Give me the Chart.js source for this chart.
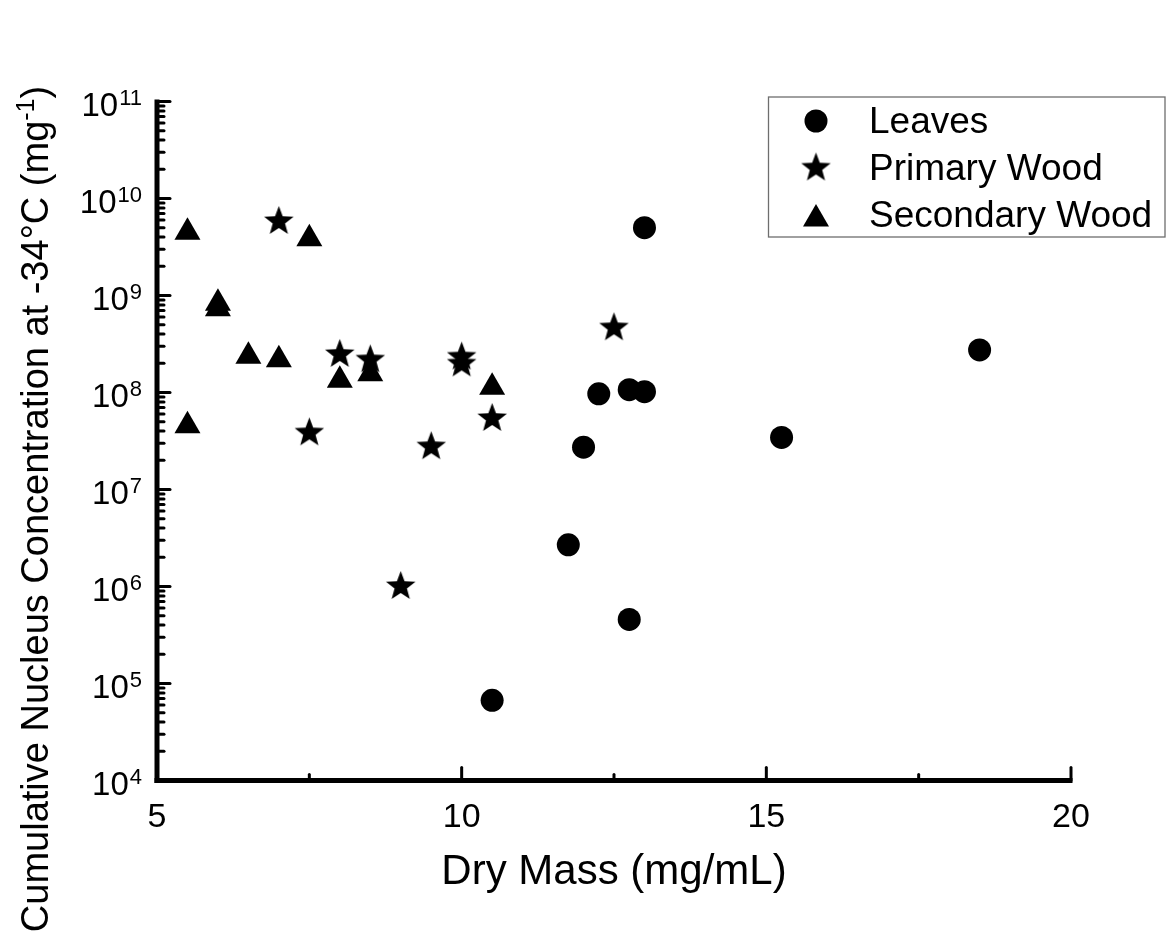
<!DOCTYPE html>
<html>
<head>
<meta charset="utf-8">
<title>Cumulative nucleus concentration vs dry mass</title>
<script src="https://cdn.jsdelivr.net/npm/chart.js@4.4.1/dist/chart.umd.min.js"></script>
<style>
  html, body { margin: 0; padding: 0; background: #ffffff; }
  #wrap { width: 1171px; height: 935px; position: relative; }
  canvas { display: block; }
</style>
</head>
<body>
<div id="wrap"><canvas id="chart" width="1171" height="935"></canvas></div>
<script>
// Dry mass (mg/mL) and cumulative nucleus concentration at -34 °C (per mg)
const leavesX    = [13, 12.25, 12.75, 13, 12, 11.75, 12.75, 10.5, 15.25, 18.5];
const leavesY    = [5.0e9, 9.7e7, 1.07e8, 1.02e8, 2.73e7, 2.69e6, 4.57e5, 6.7e4, 3.44e7, 2.75e8];

const primaryX   = [7, 8, 8.5, 10, 10, 10.5, 9.5, 9, 12.5, 7.5];
const primaryY   = [5.8e9, 2.47e8, 2.17e8, 2.32e8, 1.97e8, 5.4e7, 2.76e7, 1.0e6, 4.65e8, 3.84e7];

const secondaryX = [5.5, 6, 6, 6.5, 7, 7.5, 5.5, 8, 8.5, 10.5];
const secondaryY = [4.5e9, 8.3e8, 7.3e8, 2.36e8, 2.18e8, 3.85e9, 4.55e7, 1.34e8, 1.56e8, 1.13e8];

const seriesNames = ['Leaves', 'Primary Wood', 'Secondary Wood'];

// Axis ticks
const xMajorTicks = [5, 10, 15, 20];
const xMinorTicks = [7.5, 12.5, 17.5];
const yDecades    = [4, 5, 6, 7, 8, 9, 10, 11];

const xTitle = 'Dry Mass (mg/mL)';
const yTitleMain = 'Cumulative Nucleus Concentration at -34°C (mg';
const yTitleSup = '-1';
const yTitleEnd = ')';

const FONT = '"Liberation Sans", Arial, Helvetica, sans-serif';

function pairs(xs, ys) { return xs.map((x, i) => ({ x: x, y: ys[i] })); }

// Filled five-pointed star used as a point style
function makeStar(R) {
  const size = Math.ceil(R * 2 + 4);
  const c = document.createElement('canvas');
  c.width = size; c.height = size;
  const g = c.getContext('2d');
  const cx = size / 2, cy = size / 2, r = R * 0.42;
  g.beginPath();
  for (let i = 0; i < 10; i++) {
    const rad = (i % 2 === 0) ? R : r;
    const a = -Math.PI / 2 + i * Math.PI / 5;
    const px = cx + rad * Math.cos(a), py = cy + rad * Math.sin(a);
    if (i === 0) g.moveTo(px, py); else g.lineTo(px, py);
  }
  g.closePath();
  g.fillStyle = '#000';
  g.fill();
  return c;
}
const starImg = makeStar(15.5);

const pointStyles = ['circle', starImg, 'triangle'];
const pointRadii  = [11.5, 15.5, 15];

function drawMarker(ctx, idx, x, y) {
  ctx.save();
  ctx.fillStyle = '#000';
  if (idx === 0) {
    ctx.beginPath(); ctx.arc(x, y, pointRadii[0], 0, Math.PI * 2); ctx.fill();
  } else if (idx === 1) {
    ctx.drawImage(starImg, x - starImg.width / 2, y - starImg.height / 2);
  } else {
    const r = pointRadii[2];
    ctx.beginPath();
    ctx.moveTo(x, y - r);
    ctx.lineTo(x + r * Math.sin(Math.PI / 3), y + r / 2);
    ctx.lineTo(x - r * Math.sin(Math.PI / 3), y + r / 2);
    ctx.closePath(); ctx.fill();
  }
  ctx.restore();
}

const axesPlugin = {
  id: 'originAxes',
  afterDatasetsDraw(chart) {
    const ctx = chart.ctx;
    const xs = chart.scales.x, ys = chart.scales.y;
    const x0 = xs.getPixelForValue(5), x1 = xs.getPixelForValue(20);
    const yTop = ys.getPixelForValue(1e11), yBot = ys.getPixelForValue(1e4);
    ctx.save();
    ctx.strokeStyle = '#000';
    ctx.fillStyle = '#000';

    // y ticks (inward): decades long, 2..9 short
    ctx.lineWidth = 3;
    ctx.lineCap = 'round';
    for (let k = 4; k <= 11; k++) {
      for (let m = 1; m <= 9; m++) {
        if (k === 11 && m > 1) break;
        const y = ys.getPixelForValue(m * Math.pow(10, k));
        const len = (m === 1) ? 13 : 7;
        ctx.beginPath(); ctx.moveTo(x0, y); ctx.lineTo(x0 + len, y); ctx.stroke();
      }
    }
    // x ticks (inward)
    xMajorTicks.forEach(v => {
      const x = xs.getPixelForValue(v);
      ctx.beginPath(); ctx.moveTo(x, yBot); ctx.lineTo(x, yBot - 13); ctx.stroke();
    });
    xMinorTicks.forEach(v => {
      const x = xs.getPixelForValue(v);
      ctx.beginPath(); ctx.moveTo(x, yBot); ctx.lineTo(x, yBot - 6); ctx.stroke();
    });

    // axis lines
    ctx.lineCap = 'butt';
    ctx.lineWidth = 5;
    ctx.beginPath(); ctx.moveTo(x0, yTop - 2); ctx.lineTo(x0, yBot + 2.5); ctx.stroke();
    ctx.beginPath(); ctx.moveTo(x0 - 2.5, yBot); ctx.lineTo(x1 + 1.5, yBot); ctx.stroke();

    // x tick labels
    ctx.font = '34px ' + FONT;
    ctx.textAlign = 'center';
    ctx.textBaseline = 'alphabetic';
    xMajorTicks.forEach(v => {
      ctx.fillText(String(v), xs.getPixelForValue(v), yBot + 46);
    });

    // y tick labels: 10 with raised exponent
    yDecades.forEach(k => {
      const y = ys.getPixelForValue(Math.pow(10, k));
      const exp = String(k);
      ctx.font = '22px ' + FONT;
      const we = ctx.measureText(exp).width;
      const right = 142;
      ctx.textAlign = 'left';
      ctx.fillText(exp, right - we, y + 3);
      ctx.font = '33px ' + FONT;
      ctx.textAlign = 'right';
      ctx.fillText('10', right - we - 1, y + 14);
    });

    // x title
    ctx.font = '42px ' + FONT;
    ctx.textAlign = 'center';
    ctx.fillText(xTitle, (x0 + x1) / 2, 884);

    // y title (rotated) with superscript -1
    ctx.save();
    ctx.translate(48, 509);
    ctx.rotate(-Math.PI / 2);
    ctx.textAlign = 'left';
    ctx.font = '38px ' + FONT;
    const w1 = ctx.measureText(yTitleMain).width;
    const w3 = ctx.measureText(yTitleEnd).width;
    ctx.font = '25px ' + FONT;
    const w2 = ctx.measureText(yTitleSup).width;
    let sx = -(w1 + w2 + w3) / 2;
    ctx.font = '38px ' + FONT;
    ctx.fillText(yTitleMain, sx, 0);
    sx += w1;
    ctx.font = '25px ' + FONT;
    ctx.fillText(yTitleSup, sx, -14);
    sx += w2;
    ctx.font = '38px ' + FONT;
    ctx.fillText(yTitleEnd, sx, 0);
    ctx.restore();

    // legend box
    ctx.lineWidth = 1.3;
    ctx.strokeStyle = '#6e6e6e';
    ctx.strokeRect(768.5, 97, 396.5, 140);
    ctx.font = '37px ' + FONT;
    ctx.textAlign = 'left';
    const baselines = [133, 180, 227];
    seriesNames.forEach((name, i) => {
      drawMarker(ctx, i, 816, baselines[i] - (i === 2 ? 8 : 12));
      ctx.fillStyle = '#000';
      ctx.fillText(name, 869, baselines[i]);
    });
    ctx.restore();
  }
};

new Chart(document.getElementById('chart'), {
  type: 'scatter',
  data: {
    datasets: [
      { label: seriesNames[0], data: pairs(leavesX, leavesY),
        pointStyle: pointStyles[0], pointRadius: pointRadii[0], pointBorderWidth: 0,
        backgroundColor: '#000', borderColor: '#000' },
      { label: seriesNames[1], data: pairs(primaryX, primaryY),
        pointStyle: pointStyles[1], pointRadius: pointRadii[1], pointBorderWidth: 0,
        backgroundColor: '#000', borderColor: '#000' },
      { label: seriesNames[2], data: pairs(secondaryX, secondaryY),
        pointStyle: pointStyles[2], pointRadius: pointRadii[2], pointBorderWidth: 0,
        backgroundColor: '#000', borderColor: '#000' }
    ]
  },
  options: {
    responsive: false,
    animation: false,
    events: [],
    layout: { padding: { left: 157, right: 100, top: 101.5, bottom: 154.5 } },
    scales: {
      x: { type: 'linear', min: 5, max: 20, display: false },
      y: { type: 'logarithmic', min: 1e4, max: 1e11, display: false }
    },
    plugins: {
      legend: { display: false },
      tooltip: { enabled: false }
    }
  },
  plugins: [axesPlugin]
});
</script>
</body>
</html>
